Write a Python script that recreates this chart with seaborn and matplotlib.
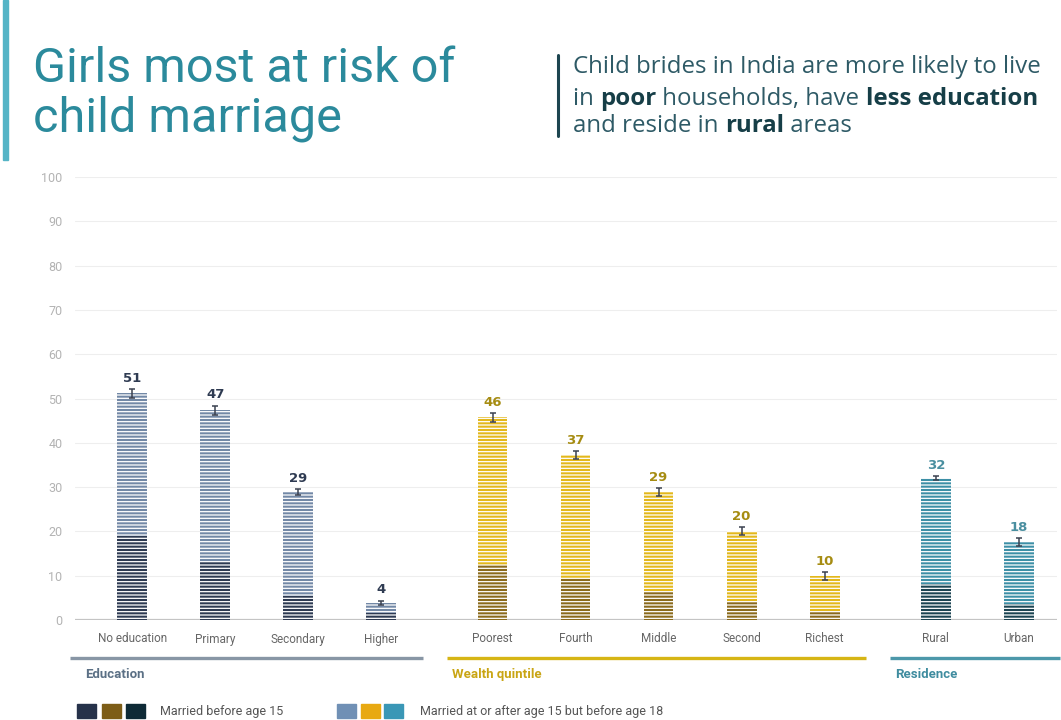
import numpy as np
import pandas as pd
import matplotlib
matplotlib.use("Agg")
import matplotlib.pyplot as plt
import matplotlib.transforms as mtransforms
from matplotlib.patches import Rectangle
from matplotlib.lines import Line2D
import seaborn as sns

# ---------------- data ----------------
categories = ["No education", "Primary", "Secondary", "Higher",
              "Poorest", "Fourth", "Middle", "Second", "Richest",
              "Rural", "Urban"]
groups = ["Education"] * 4 + ["Wealth quintile"] * 5 + ["Residence"] * 2
married_by_18 = [51.2, 47.3, 28.9, 3.9, 45.8, 37.2, 28.9, 20.1, 10.0, 32.0, 17.5]
married_by_15 = [19.0, 13.2, 5.4, 1.6, 12.4, 9.5, 6.4, 4.1, 1.9, 8.1, 3.6]
ci_halfwidth = [1.0, 1.1, 0.7, 0.5, 1.0, 0.9, 0.9, 0.9, 0.9, 0.5, 0.9]
group_names = ["Education", "Wealth quintile", "Residence"]

# ---------------- style ----------------
light_pal = {"Education": "#7288a6", "Wealth quintile": "#e3b81b", "Residence": "#3d8fa6"}
dark_pal = {"Education": "#2d3a52", "Wealth quintile": "#8a6a1c", "Residence": "#1b4452"}
label_col = {"Education": "#2f3b52", "Wealth quintile": "#a68c12", "Residence": "#4a8fa0"}
group_line_col = {"Education": "#8896a5", "Wealth quintile": "#d6b515", "Residence": "#4c98aa"}
group_text_col = {"Education": "#5b7085", "Wealth quintile": "#c9a514", "Residence": "#3f8c9f"}
legend_dark = ["#26324a", "#7d5d17", "#0e2a36"]
legend_light = ["#7090b5", "#e8a912", "#3a97b6"]

NARROW = ["Roboto", "DejaVu Sans"]

sns.set_theme(style="white")
plt.rcParams["font.family"] = ["Roboto", "DejaVu Sans"]
plt.rcParams["hatch.linewidth"] = 0.9
plt.rcParams["hatch.color"] = "white"

W, H = 1061, 720
fig = plt.figure(figsize=(W / 100, H / 100), dpi=100)
fig.patch.set_facecolor("white")

def fx(px):
    return px / W

def fy(py):
    return 1 - py / H

ax = fig.add_axes([fx(75), fy(620), fx(1057) - fx(75), fy(177) - fy(620)])
ax.set_facecolor("white")

# positions: slot index plus an extra gap between groups
gidx = [group_names.index(g) for g in groups]
pos = [i + 0.34 * g for i, g in enumerate(gidx)]

df = pd.DataFrame({"category": categories, "group": groups, "pos": pos,
                   "total": married_by_18, "under15": married_by_15,
                   "err": ci_halfwidth})

sns.barplot(data=df, x="pos", y="total", hue="group", palette=light_pal,
            native_scale=True, width=0.36, dodge=False, legend=False,
            errorbar=None, saturation=1, ax=ax, zorder=2)
sns.barplot(data=df, x="pos", y="under15", hue="group", palette=dark_pal,
            native_scale=True, width=0.36, dodge=False, legend=False,
            errorbar=None, saturation=1, ax=ax, zorder=3)
for p in ax.patches:
    p.set_hatch("-----")
    p.set_edgecolor("white")
    p.set_linewidth(0)

ax.errorbar(df["pos"], df["total"], yerr=df["err"], fmt="none",
            ecolor="#3b4150", elinewidth=1.1, capsize=2.5, capthick=1.1, zorder=4)

for _, r in df.iterrows():
    ax.annotate(f"{r['total']:.0f}", (r["pos"], r["total"] + r["err"]),
                xytext=(0, 3), textcoords="offset points", ha="center", va="bottom",
                fontsize=9.5, fontweight="bold", color=label_col[r["group"]],
                family="DejaVu Sans", zorder=5)

XMIN, XMAX = -0.69, 11.14
ax.set_ylim(0, 100)
ax.set_xlim(XMIN, XMAX)
ax.set_yticks(np.arange(0, 101, 10))
ax.set_xticks(df["pos"])
ax.set_xticklabels(categories, family=NARROW, fontsize=8.5, color="#666666")
for t in ax.get_yticklabels():
    t.set_color("#b3b3b3")
    t.set_fontsize(9)
ax.tick_params(axis="both", length=0)
ax.tick_params(axis="x", pad=9)
ax.tick_params(axis="y", pad=9)
ax.set_xlabel("")
ax.set_ylabel("")
ax.grid(axis="y", color="#eeeeee", linewidth=0.8, zorder=0)
ax.set_axisbelow(True)
for s in ax.spines.values():
    s.set_visible(False)
ax.axhline(0, color="#c4c4c4", linewidth=1.6, zorder=1)

# group underline and labels
trans = mtransforms.blended_transform_factory(ax.transData, ax.transAxes)
for gi, gname in enumerate(group_names):
    gpos = [p for p, g in zip(pos, groups) if g == gname]
    x0 = XMIN - 0.06 if gi == 0 else gpos[0] - 0.55
    x1 = gpos[-1] + 0.5
    ax.add_line(Line2D([x0, x1], [-0.0858, -0.0858], transform=trans,
                       color=group_line_col[gname], linewidth=2.4,
                       clip_on=False, solid_capstyle="butt"))
    tx = x0 + (0.18 if gi == 0 else 0.06)
    ax.text(tx, -0.124, gname, transform=trans, ha="left", va="center",
            fontsize=9.5, fontweight="bold", family=NARROW,
            color=group_text_col[gname])

# legend
sq_w, sq_h = 19, 14
for i, c in enumerate(legend_dark):
    fig.patches.append(Rectangle((fx(77 + i * 24.5), fy(718)), fx(sq_w), sq_h / H,
                                 transform=fig.transFigure, color=c))
fig.text(fx(160), fy(711), "Married before age 15", fontsize=9, family=NARROW,
         color="#555555", va="center", ha="left")
for i, c in enumerate(legend_light):
    fig.patches.append(Rectangle((fx(337 + i * 23.5), fy(718)), fx(sq_w), sq_h / H,
                                 transform=fig.transFigure, color=c))
fig.text(fx(420), fy(711), "Married at or after age 15 but before age 18", fontsize=9,
         family=NARROW, color="#555555", va="center", ha="left")

# title
fig.patches.append(Rectangle((fx(3), fy(160)), fx(5), 160 / H,
                             transform=fig.transFigure, color="#55b4c6"))
fig.text(fx(33), fy(82), "Girls most at risk of", fontsize=35, family=NARROW,
         color="#2b8a9c", va="baseline", ha="left")
fig.text(fx(33), fy(132), "child marriage", fontsize=35, family=NARROW,
         color="#2b8a9c", va="baseline", ha="left")

# subtitle with mixed weights
fig.add_artist(Line2D([fx(558), fx(558)], [fy(55), fy(136)], transform=fig.transFigure,
                      color="#1d4550", linewidth=2.2))
renderer = fig.canvas.get_renderer()
sub_lines = [
    [("Child brides in India are more likely to live", False)],
    [("in ", False), ("poor", True), (" households, have ", False), ("less education", True)],
    [("and reside in ", False), ("rural", True), (" areas", False)],
]
baselines = [73, 105, 132]
for segs, by in zip(sub_lines, baselines):
    x = fx(573)
    for txt, bold in segs:
        t = fig.text(x, fy(by), txt, fontsize=17.3, family=["Open Sans", "DejaVu Sans"],
                     fontweight="bold" if bold else "normal",
                     color="#163e47" if bold else "#2e5a66",
                     va="baseline", ha="left")
        bb = t.get_window_extent(renderer=renderer)
        x += bb.width / fig.bbox.width

fig.savefig("out.png", dpi=100, facecolor="white")
